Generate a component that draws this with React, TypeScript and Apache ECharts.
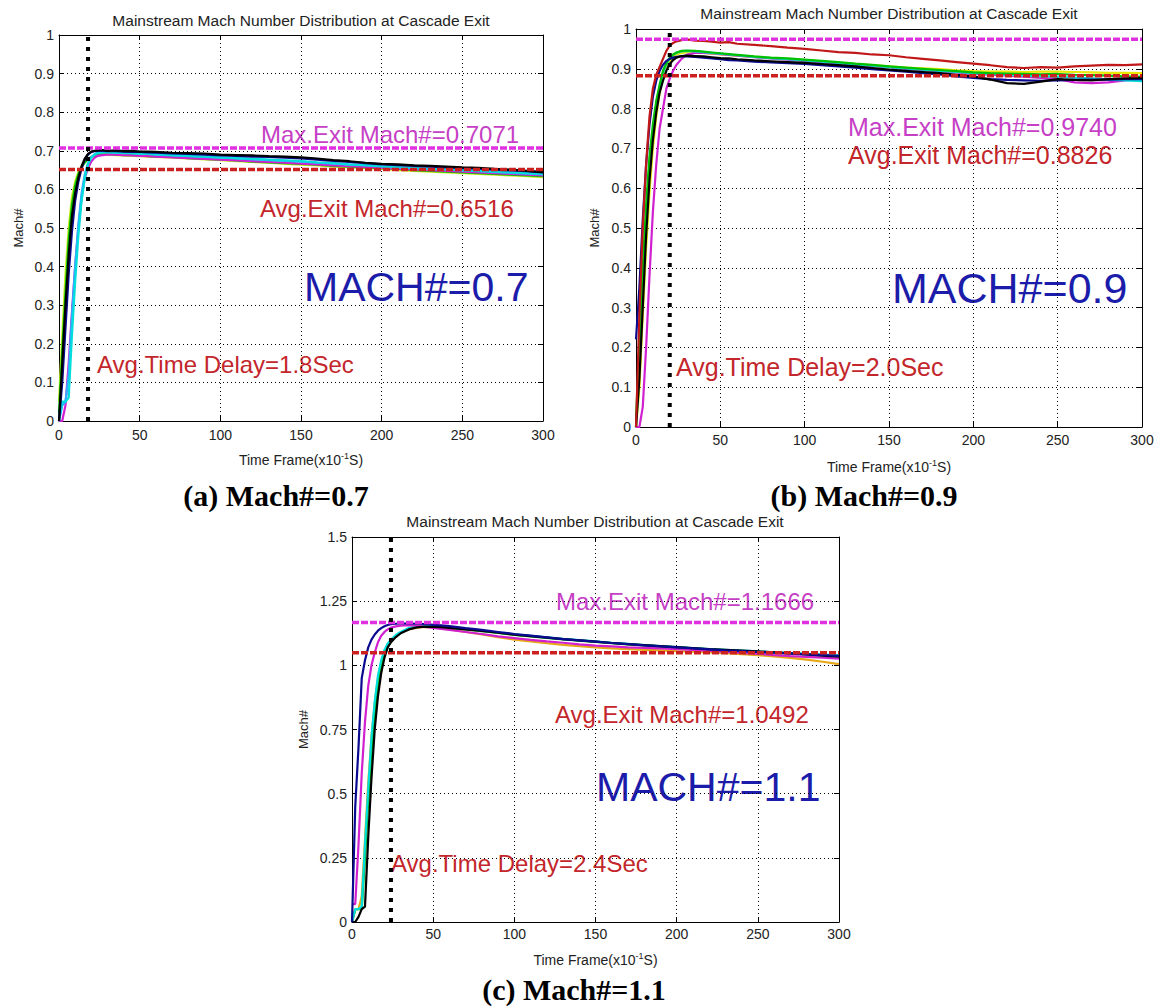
import { useEffect, useRef } from "react";
import * as echarts from "echarts";

// Sample times, in units of 0.1 s
const TIME = [
  0, 2, 4, 6, 8, 10, 12, 14, 16, 18, 20, 22, 24, 27, 30, 35, 40, 45, 50, 55, 60,
  70, 80, 90, 100, 110, 120, 130, 140, 150, 160, 170, 180, 190, 200, 210, 220,
  230, 240, 250, 260, 270, 280, 290, 300,
];

// ---- (a) inlet Mach 0.7 ----
const blackA = [0, 0.15, 0.3, 0.43, 0.53, 0.59, 0.63, 0.66, 0.68, 0.692, 0.698, 0.7, 0.701, 0.702, 0.7, 0.701, 0.699, 0.7, 0.698, 0.698, 0.697, 0.695, 0.694, 0.693, 0.69, 0.689, 0.688, 0.686, 0.685, 0.683, 0.68, 0.676, 0.673, 0.669, 0.666, 0.665, 0.662, 0.661, 0.659, 0.657, 0.656, 0.653, 0.651, 0.648, 0.645];
const navyA = [0, 0.1, 0.24, 0.38, 0.49, 0.57, 0.62, 0.655, 0.677, 0.69, 0.697, 0.699, 0.7, 0.7, 0.699, 0.699, 0.698, 0.697, 0.697, 0.696, 0.695, 0.693, 0.692, 0.69, 0.688, 0.687, 0.685, 0.684, 0.682, 0.68, 0.677, 0.674, 0.671, 0.668, 0.665, 0.663, 0.661, 0.659, 0.657, 0.655, 0.654, 0.651, 0.649, 0.647, 0.644];
const cyanA = [0, 0.05, 0.05, 0.06, 0.22, 0.36, 0.48, 0.57, 0.63, 0.665, 0.682, 0.69, 0.694, 0.696, 0.696, 0.695, 0.694, 0.694, 0.692, 0.692, 0.691, 0.689, 0.687, 0.685, 0.683, 0.681, 0.679, 0.677, 0.675, 0.673, 0.67, 0.668, 0.665, 0.663, 0.66, 0.658, 0.656, 0.654, 0.652, 0.65, 0.648, 0.646, 0.644, 0.642, 0.64];
const skyA = [0, 0.04, 0.05, 0.12, 0.27, 0.4, 0.51, 0.59, 0.64, 0.668, 0.684, 0.691, 0.695, 0.697, 0.697, 0.696, 0.695, 0.694, 0.693, 0.692, 0.69, 0.688, 0.686, 0.684, 0.682, 0.68, 0.678, 0.676, 0.674, 0.672, 0.669, 0.667, 0.664, 0.662, 0.659, 0.657, 0.655, 0.653, 0.651, 0.649, 0.647, 0.645, 0.643, 0.641, 0.639];
const greenA = [0.02, 0.18, 0.33, 0.47, 0.56, 0.61, 0.64, 0.658, 0.67, 0.678, 0.684, 0.688, 0.69, 0.691, 0.691, 0.69, 0.689, 0.689, 0.688, 0.686, 0.685, 0.684, 0.681, 0.679, 0.677, 0.675, 0.672, 0.67, 0.668, 0.666, 0.664, 0.661, 0.659, 0.657, 0.655, 0.653, 0.65, 0.648, 0.646, 0.644, 0.642, 0.64, 0.638, 0.636, 0.634];
const yellowA = [0.05, 0.22, 0.38, 0.5, 0.58, 0.62, 0.645, 0.66, 0.671, 0.679, 0.684, 0.687, 0.689, 0.69, 0.69, 0.689, 0.688, 0.687, 0.686, 0.685, 0.684, 0.682, 0.68, 0.678, 0.676, 0.673, 0.671, 0.669, 0.666, 0.664, 0.662, 0.659, 0.657, 0.655, 0.653, 0.65, 0.648, 0.646, 0.644, 0.642, 0.64, 0.638, 0.636, 0.634, 0.632];
const magentaA = [0, 0, 0.04, 0.15, 0.28, 0.4, 0.5, 0.58, 0.63, 0.655, 0.672, 0.682, 0.687, 0.689, 0.69, 0.69, 0.689, 0.688, 0.687, 0.686, 0.685, 0.683, 0.681, 0.679, 0.677, 0.675, 0.673, 0.671, 0.669, 0.667, 0.665, 0.662, 0.66, 0.658, 0.656, 0.654, 0.652, 0.65, 0.648, 0.646, 0.644, 0.642, 0.64, 0.638, 0.636];

// ---- (b) inlet Mach 0.9 ----
const redB = [0, 0.28, 0.5, 0.66, 0.78, 0.85, 0.885, 0.905, 0.925, 0.945, 0.958, 0.965, 0.969, 0.972, 0.974, 0.971, 0.97, 0.968, 0.966, 0.967, 0.963, 0.96, 0.957, 0.953, 0.95, 0.946, 0.942, 0.94, 0.936, 0.934, 0.929, 0.925, 0.921, 0.917, 0.913, 0.909, 0.904, 0.902, 0.904, 0.903, 0.906, 0.908, 0.91, 0.909, 0.911];
const blackB = [0, 0.12, 0.3, 0.48, 0.62, 0.72, 0.79, 0.84, 0.87, 0.895, 0.912, 0.922, 0.928, 0.932, 0.933, 0.932, 0.931, 0.929, 0.927, 0.926, 0.924, 0.921, 0.919, 0.917, 0.915, 0.912, 0.909, 0.906, 0.902, 0.898, 0.895, 0.892, 0.889, 0.885, 0.881, 0.873, 0.864, 0.862, 0.868, 0.874, 0.872, 0.871, 0.874, 0.876, 0.877];
const navyB = [0.22, 0.35, 0.52, 0.66, 0.76, 0.83, 0.87, 0.895, 0.91, 0.92, 0.925, 0.928, 0.93, 0.931, 0.931, 0.93, 0.928, 0.926, 0.924, 0.922, 0.921, 0.918, 0.916, 0.914, 0.912, 0.909, 0.906, 0.903, 0.899, 0.896, 0.893, 0.889, 0.886, 0.881, 0.877, 0.874, 0.872, 0.871, 0.87, 0.871, 0.872, 0.873, 0.873, 0.874, 0.874];
const greenB = [0.02, 0.2, 0.4, 0.56, 0.68, 0.76, 0.82, 0.86, 0.895, 0.915, 0.928, 0.936, 0.941, 0.945, 0.946, 0.945, 0.943, 0.941, 0.939, 0.937, 0.935, 0.931, 0.928, 0.926, 0.923, 0.92, 0.917, 0.913, 0.91, 0.906, 0.903, 0.9, 0.897, 0.894, 0.891, 0.889, 0.888, 0.887, 0.886, 0.887, 0.885, 0.884, 0.883, 0.881, 0.88];
const cyanB = [0, 0.15, 0.35, 0.52, 0.65, 0.74, 0.81, 0.855, 0.89, 0.912, 0.926, 0.935, 0.94, 0.944, 0.945, 0.944, 0.942, 0.94, 0.938, 0.936, 0.934, 0.93, 0.927, 0.924, 0.921, 0.918, 0.915, 0.911, 0.908, 0.904, 0.901, 0.898, 0.895, 0.892, 0.889, 0.887, 0.885, 0.883, 0.881, 0.88, 0.878, 0.876, 0.873, 0.871, 0.869];
const yellowB = [0, 0.1, 0.28, 0.45, 0.59, 0.7, 0.78, 0.84, 0.88, 0.905, 0.92, 0.93, 0.936, 0.94, 0.941, 0.941, 0.94, 0.938, 0.936, 0.935, 0.933, 0.93, 0.927, 0.924, 0.921, 0.918, 0.915, 0.912, 0.909, 0.906, 0.903, 0.901, 0.899, 0.896, 0.894, 0.893, 0.893, 0.892, 0.893, 0.893, 0.892, 0.891, 0.89, 0.89, 0.889];
const magentaB = [0, 0, 0.05, 0.2, 0.38, 0.54, 0.66, 0.75, 0.8, 0.85, 0.875, 0.895, 0.91, 0.925, 0.935, 0.94, 0.94, 0.939, 0.937, 0.935, 0.933, 0.929, 0.926, 0.923, 0.92, 0.917, 0.914, 0.91, 0.907, 0.904, 0.9, 0.897, 0.894, 0.891, 0.887, 0.885, 0.883, 0.88, 0.877, 0.874, 0.866, 0.864, 0.866, 0.871, 0.874];

// ---- (c) inlet Mach 1.1 ----
const navyC = [0, 0.45, 0.68, 0.95, 1.02, 1.07, 1.1, 1.12, 1.135, 1.145, 1.152, 1.157, 1.16, 1.162, 1.163, 1.163, 1.162, 1.161, 1.158, 1.156, 1.153, 1.145, 1.138, 1.13, 1.122, 1.116, 1.109, 1.102, 1.097, 1.092, 1.087, 1.083, 1.078, 1.074, 1.07, 1.066, 1.062, 1.058, 1.055, 1.052, 1.049, 1.046, 1.043, 1.04, 1.037];
const magentaC = [0.07, 0.07, 0.3, 0.58, 0.78, 0.92, 1.0, 1.05, 1.09, 1.115, 1.13, 1.14, 1.147, 1.152, 1.155, 1.157, 1.155, 1.15, 1.146, 1.142, 1.138, 1.13, 1.122, 1.113, 1.106, 1.099, 1.093, 1.088, 1.082, 1.077, 1.074, 1.07, 1.068, 1.066, 1.063, 1.06, 1.056, 1.052, 1.048, 1.045, 1.04, 1.036, 1.033, 1.03, 1.026];
const cyanC = [0, 0.05, 0.05, 0.06, 0.3, 0.52, 0.72, 0.86, 0.96, 1.02, 1.06, 1.085, 1.1, 1.118, 1.13, 1.145, 1.152, 1.155, 1.154, 1.152, 1.148, 1.142, 1.135, 1.128, 1.121, 1.115, 1.109, 1.103, 1.098, 1.093, 1.088, 1.084, 1.079, 1.075, 1.071, 1.067, 1.063, 1.06, 1.057, 1.054, 1.051, 1.048, 1.045, 1.042, 1.039];
const greenC = [0, 0.05, 0.05, 0.05, 0.25, 0.47, 0.66, 0.81, 0.92, 0.99, 1.04, 1.072, 1.092, 1.112, 1.126, 1.142, 1.15, 1.153, 1.153, 1.151, 1.147, 1.14, 1.133, 1.126, 1.119, 1.113, 1.107, 1.101, 1.096, 1.091, 1.086, 1.082, 1.078, 1.074, 1.07, 1.066, 1.062, 1.059, 1.056, 1.053, 1.05, 1.047, 1.044, 1.041, 1.038];
const blackC = [0, 0, 0.02, 0.05, 0.06, 0.33, 0.56, 0.75, 0.88, 0.97, 1.03, 1.07, 1.09, 1.11, 1.125, 1.14, 1.148, 1.151, 1.15, 1.149, 1.146, 1.14, 1.134, 1.127, 1.12, 1.114, 1.108, 1.102, 1.097, 1.092, 1.087, 1.083, 1.079, 1.075, 1.071, 1.067, 1.063, 1.06, 1.057, 1.054, 1.051, 1.047, 1.043, 1.038, 1.034];
const orangeC = [0, 0.05, 0.05, 0.1, 0.32, 0.54, 0.72, 0.85, 0.95, 1.01, 1.05, 1.08, 1.098, 1.115, 1.128, 1.14, 1.147, 1.15, 1.148, 1.144, 1.14, 1.13, 1.12, 1.11, 1.1, 1.093, 1.086, 1.08, 1.075, 1.07, 1.066, 1.063, 1.06, 1.058, 1.055, 1.053, 1.05, 1.047, 1.044, 1.04, 1.035, 1.029, 1.022, 1.014, 1.005];

// Summary values per case
const INLET_MACH = ["0.7", "0.9", "1.1"];
const MAX_EXIT = [0.7071, 0.974, 1.1666];
const AVG_EXIT = [0.6516, 0.8826, 1.0492];
const DELAY_SEC = [1.8, 2.0, 2.4];
const Y_MAX = [1, 1, 1.5];
const Y_STEP = [0.1, 0.1, 0.25];
const CAPTION_TAG = ["(a)", "(b)", "(c)"];

const CURVES = [
  [
    { c: "#ccee22", d: yellowA },
    { c: "#00c000", d: greenA },
    { c: "#d020d0", d: magentaA },
    { c: "#33aaff", d: skyA },
    { c: "#00dddd", d: cyanA },
    { c: "#0a0a90", d: navyA },
    { c: "#000000", d: blackA },
  ],
  [
    { c: "#e8e800", d: yellowB },
    { c: "#d020d0", d: magentaB },
    { c: "#00dddd", d: cyanB },
    { c: "#00c000", d: greenB },
    { c: "#0a0a90", d: navyB },
    { c: "#000000", d: blackB },
    { c: "#c01818", d: redB },
  ],
  [
    { c: "#e6a817", d: orangeC },
    { c: "#00c000", d: greenC },
    { c: "#00dddd", d: cyanC },
    { c: "#d020d0", d: magentaC },
    { c: "#000000", d: blackC },
    { c: "#0a0a90", d: navyC },
  ],
];

const SANS = "'Liberation Sans', Arial, Helvetica, sans-serif";
const SERIF = "'Liberation Serif', 'Times New Roman', serif";
const TITLE = "Mainstream Mach Number Distribution at Cascade Exit";

// Panel geometry (pixels)
const GRIDS = [
  { left: 59, top: 35, width: 484, height: 386 },
  { left: 636, top: 29, width: 506, height: 398 },
  { left: 352, top: 537, width: 487, height: 385 },
];
const NAME_GAP_X = [30, 31, 29];
const NAME_GAP_Y = [34, 35, 42];
const LABEL_MARGIN_X = [7, 6, 5];

// Text placement (pixels): [x, y] with y as the text's vertical middle
const TEXT_POS = [
  { title: [301, 20], max: [261, 134, 24], avg: [260, 208, 24], mach: [304, 287, 41], delay: [97, 364, 24], cap: [276, 495] },
  { title: [889, 13], max: [848, 127, 25], avg: [848, 155, 25], mach: [892, 288, 43], delay: [676, 367, 25], cap: [864, 495] },
  { title: [595, 521], max: [556, 601, 24], avg: [555, 714, 24], mach: [596, 787, 41], delay: [391, 863, 24], cap: [574, 989] },
];

function txt(x: number, y: number, text: string, size: number, fill: string, align: string, family = SANS, weight = "normal") {
  return {
    type: "text",
    x,
    y,
    silent: true,
    style: {
      text,
      fill,
      fontSize: size,
      fontFamily: family,
      fontWeight: weight,
      textAlign: align,
      align,
      textVerticalAlign: "middle",
      verticalAlign: "middle",
    },
  };
}

function buildOption() {
  const grid: any[] = [];
  const xAxis: any[] = [];
  const yAxis: any[] = [];
  const series: any[] = [];
  const graphic: any[] = [];

  for (let i = 0; i < 3; i++) {
    grid.push({ ...GRIDS[i], containLabel: false });
    const axisLineStyle = { color: "#000", width: 1 };
    const tick = { inside: true, length: 5, lineStyle: { color: "#000" } };
    const gridDots = { show: true, lineStyle: { color: "#000", width: 1, type: [1, 3] } };

    xAxis.push({
      type: "value",
      gridIndex: i,
      min: 0,
      max: 300,
      interval: 50,
      position: "bottom",
      axisLine: { show: true, onZero: false, lineStyle: axisLineStyle },
      axisTick: tick,
      axisLabel: { fontFamily: SANS, fontSize: 14, color: "#222", margin: LABEL_MARGIN_X[i] },
      splitLine: gridDots,
      name: "{a|Time Frame(x10}{b|-1}{a|S)}",
      nameLocation: "middle",
      nameGap: NAME_GAP_X[i],
      nameTextStyle: {
        rich: {
          a: { fontFamily: SANS, fontSize: 14, color: "#222", lineHeight: 16, verticalAlign: "bottom" },
          b: { fontFamily: SANS, fontSize: 9, color: "#222", lineHeight: 10, verticalAlign: "top" },
        },
      },
    });
    xAxis.push({
      type: "value",
      gridIndex: i,
      min: 0,
      max: 300,
      interval: 50,
      position: "top",
      axisLine: { show: true, onZero: false, lineStyle: axisLineStyle },
      axisTick: tick,
      axisLabel: { show: false },
      splitLine: { show: false },
    });
    yAxis.push({
      type: "value",
      gridIndex: i,
      min: 0,
      max: Y_MAX[i],
      interval: Y_STEP[i],
      position: "left",
      axisLine: { show: true, onZero: false, lineStyle: axisLineStyle },
      axisTick: tick,
      axisLabel: { fontFamily: SANS, fontSize: 14, color: "#222", margin: 5 },
      splitLine: gridDots,
      name: "Mach#",
      nameLocation: "middle",
      nameGap: NAME_GAP_Y[i],
      nameTextStyle: { fontFamily: SANS, fontSize: 13, color: "#222" },
    });
    yAxis.push({
      type: "value",
      gridIndex: i,
      min: 0,
      max: Y_MAX[i],
      interval: Y_STEP[i],
      position: "right",
      axisLine: { show: true, onZero: false, lineStyle: axisLineStyle },
      axisTick: tick,
      axisLabel: { show: false },
      splitLine: { show: false },
    });

    const xi = i * 2;
    const yi = i * 2;
    CURVES[i].forEach((cv) => {
      series.push({
        type: "line",
        xAxisIndex: xi,
        yAxisIndex: yi,
        data: TIME.map((t, k) => [t, cv.d[k]]),
        symbol: "none",
        silent: true,
        lineStyle: { color: cv.c, width: 2.2 },
      });
    });
    series.push({
      type: "line",
      xAxisIndex: xi,
      yAxisIndex: yi,
      data: [[0, AVG_EXIT[i]], [300, AVG_EXIT[i]]],
      symbol: "none",
      silent: true,
      lineStyle: { color: "#cc2020", width: 3.5, type: [7, 2] },
    });
    series.push({
      type: "line",
      xAxisIndex: xi,
      yAxisIndex: yi,
      data: [[0, MAX_EXIT[i]], [300, MAX_EXIT[i]]],
      symbol: "none",
      silent: true,
      lineStyle: { color: "#e030e0", width: 3.5, type: [7, 2] },
    });
    series.push({
      type: "line",
      xAxisIndex: xi,
      yAxisIndex: yi,
      data: [[DELAY_SEC[i] * 10, 0], [DELAY_SEC[i] * 10, Y_MAX[i]]],
      symbol: "none",
      silent: true,
      lineStyle: { color: "#000", width: 4, type: [4, 6], cap: "butt" },
    });

    const p = TEXT_POS[i];
    graphic.push(txt(p.title[0], p.title[1], TITLE, 15.5, "#222", "center"));
    graphic.push(txt(p.max[0], p.max[1], "Max.Exit Mach#=" + MAX_EXIT[i].toFixed(4), p.max[2], "#c63fc6", "left"));
    graphic.push(txt(p.avg[0], p.avg[1], "Avg.Exit Mach#=" + AVG_EXIT[i].toFixed(4), p.avg[2], "#c3262b", "left"));
    graphic.push(txt(p.mach[0], p.mach[1], "MACH#=" + INLET_MACH[i], p.mach[2], "#1c1caa", "left"));
    graphic.push(txt(p.delay[0], p.delay[1], "Avg.Time Delay=" + DELAY_SEC[i].toFixed(1) + "Sec", p.delay[2], "#c3262b", "left"));
    graphic.push(txt(p.cap[0], p.cap[1], CAPTION_TAG[i] + " Mach#=" + INLET_MACH[i], 30, "#000", "center", SERIF, "bold"));
  }

  return {
    animation: false,
    backgroundColor: "#ffffff",
    grid,
    xAxis,
    yAxis,
    series,
    graphic: { elements: graphic },
  };
}

export default function App() {
  const ref = useRef<HTMLDivElement>(null);
  useEffect(() => {
    if (!ref.current) return;
    const chart = echarts.init(ref.current, null, { renderer: "svg" });
    chart.setOption(buildOption());
    return () => chart.dispose();
  }, []);
  return (
    <div
      ref={ref}
      style={{ position: "absolute", left: 0, top: 0, width: 1165, height: 1006, background: "#fff" }}
    />
  );
}
